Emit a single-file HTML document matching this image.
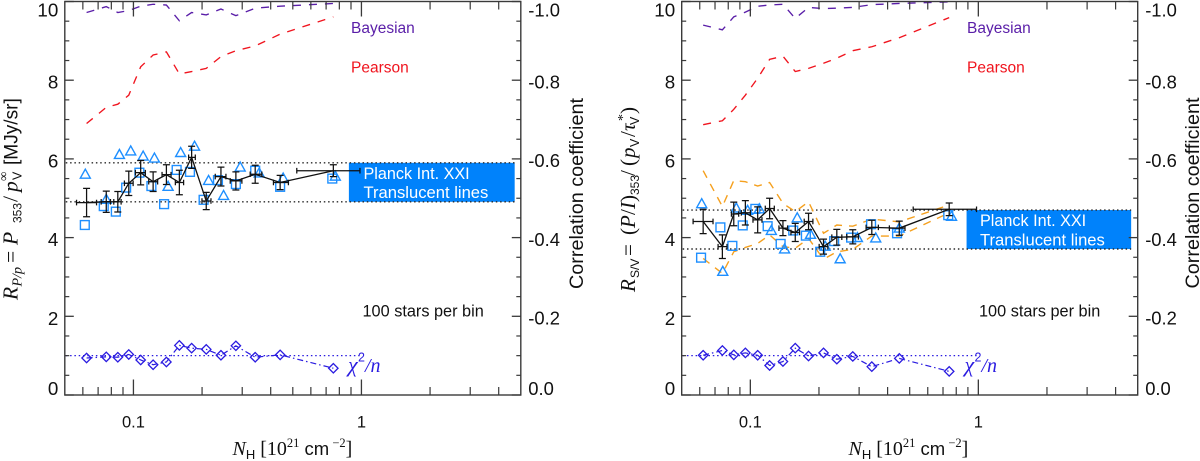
<!DOCTYPE html>
<html lang="en">
<head>
<meta charset="utf-8">
<title>Polarization ratios versus column density</title>
<style>
html,body{margin:0;padding:0;background:#fff;}
svg{display:block;}
text{font-family:"Liberation Sans",sans-serif;}
.serif{font-family:"Liberation Serif",serif;}
.sans{font-family:"Liberation Sans",sans-serif;}
.it{font-style:italic;}
</style>
</head>
<body>
<svg id="chart" xmlns="http://www.w3.org/2000/svg" width="1200" height="461" viewBox="0 0 1200 461">
  <rect x="0" y="0" width="1200" height="461" fill="#fff"></rect>
  <g id="left-panel"></g>
  <g id="right-panel"></g>

  <!-- Left panel static text -->
  <text x="363.5" y="179" font-size="16.2" fill="#fff">Planck Int. XXI</text>
  <text x="363.5" y="198" font-size="16.6" fill="#fff">Translucent lines</text>
  <text x="362.5" y="316.5" font-size="16.3" fill="#111">100 stars per bin</text>
  <text x="351" y="33" font-size="15.5" fill="#5a1ea8">Bayesian</text>
  <text x="351" y="72.5" font-size="15.5" fill="#f0141e">Pearson</text>
  <text y="372" font-size="22" fill="#2a1be0" class="serif it"><tspan x="348" y="372">χ</tspan><tspan class="sans" font-style="normal" font-size="12.5" x="358" y="361.5">2</tspan><tspan font-size="20" x="365" y="372">/n</tspan></text>
  <text x="232.5" y="455" font-size="20" fill="#111" class="serif"><tspan class="it">N</tspan><tspan class="sans" font-size="13" dy="4">H</tspan><tspan dy="-4"> [10</tspan><tspan font-size="12.5" dy="-8">21</tspan><tspan class="sans" font-size="18.5" dy="8"> cm</tspan><tspan font-size="12.5" dy="-8"> −2</tspan><tspan dy="8">]</tspan></text>
  <text transform="translate(17.5,300) rotate(-90)" font-size="21.5" fill="#111" class="serif"><tspan class="it" x="0" y="0">R</tspan><tspan class="it" font-size="14" x="13.5" y="4">P/p</tspan><tspan x="37" y="0">=</tspan><tspan class="it" x="55" y="0">P</tspan><tspan class="sans" font-size="12" x="77" y="4">353</tspan><tspan x="98" y="0">/</tspan><tspan class="it" x="108" y="0">p</tspan><tspan class="sans" font-size="12.5" x="120" y="4">V</tspan><tspan font-size="13" x="119" y="-10">∞</tspan><tspan class="sans" font-size="19.1" x="135" y="0">[MJy/sr]</tspan></text>
  <text transform="translate(583,289) rotate(-90)" font-size="19.8" fill="#111">Correlation coefficient</text>

  <!-- Right panel static text -->
  <text x="980" y="226" font-size="16.2" fill="#fff">Planck Int. XXI</text>
  <text x="980" y="245.5" font-size="16.6" fill="#fff">Translucent lines</text>
  <text x="979" y="316.5" font-size="16.3" fill="#111">100 stars per bin</text>
  <text x="967" y="33" font-size="15.5" fill="#5a1ea8">Bayesian</text>
  <text x="967" y="72.5" font-size="15.5" fill="#f0141e">Pearson</text>
  <text y="372" font-size="22" fill="#2a1be0" class="serif it"><tspan x="964.5" y="372">χ</tspan><tspan class="sans" font-style="normal" font-size="12.5" x="974.5" y="361.5">2</tspan><tspan font-size="20" x="981.5" y="372">/n</tspan></text>
  <text x="848.5" y="455" font-size="20" fill="#111" class="serif"><tspan class="it">N</tspan><tspan class="sans" font-size="13" dy="4">H</tspan><tspan dy="-4"> [10</tspan><tspan font-size="12.5" dy="-8">21</tspan><tspan class="sans" font-size="18.5" dy="8"> cm</tspan><tspan font-size="12.5" dy="-8"> −2</tspan><tspan dy="8">]</tspan></text>
  <text transform="translate(635,292) rotate(-90)" font-size="21" fill="#111" class="serif"><tspan class="it" x="0" y="0">R</tspan><tspan class="sans" font-size="12" x="14" y="4">S/V</tspan><tspan x="36" y="0">=</tspan><tspan x="57" y="0">(</tspan><tspan class="it" x="64" y="0">P</tspan><tspan x="77" y="0">/</tspan><tspan class="it" x="83" y="0">I</tspan><tspan x="90" y="0">)</tspan><tspan class="sans" font-size="12" x="97" y="4">353</tspan><tspan x="116" y="0">/</tspan><tspan x="126" y="0">(</tspan><tspan class="it" x="134" y="0">p</tspan><tspan class="sans" font-size="12.5" x="145" y="4">V</tspan><tspan x="155" y="0">/</tspan><tspan class="it" x="161" y="0">τ</tspan><tspan class="sans" font-size="12.5" x="167" y="4">V</tspan><tspan font-size="14" x="171" y="-8">*</tspan><tspan x="178" y="0">)</tspan></text>
  <text transform="translate(1199,288.5) rotate(-90)" font-size="19.8" fill="#111">Correlation coefficient</text>
</svg>

<script>
// ---- Shared tick data ----
var ratioMajorTicks = [0, 2, 4, 6, 8, 10];
var ratioTickLabels = ['0', '2', '4', '6', '8', '10'];
var ratioMinorTicks = [0.5, 1, 1.5, 2.5, 3, 3.5, 4.5, 5, 5.5, 6.5, 7, 7.5, 8.5, 9, 9.5];
var corrMajorTicks = [0, -0.2, -0.4, -0.6, -0.8, -1.0];
var corrTickLabels = ['0.0', '-0.2', '-0.4', '-0.6', '-0.8', '-1.0'];
var corrMinorTicks = [-0.05, -0.1, -0.15, -0.25, -0.3, -0.35, -0.45, -0.5, -0.55, -0.65, -0.7, -0.75, -0.85, -0.9, -0.95];
var columnMajorTicks = [0.1, 1];
var columnTickLabels = ['0.1', '1'];
var columnMinorTicks = [0.06, 0.07, 0.08, 0.09, 0.2, 0.3, 0.4, 0.5, 0.6, 0.7, 0.8, 0.9, 2, 3, 4];
var columnRange = [0.05, 5];
var ratioRange = [0, 10];
var chiReference = [1];

// ---- Left panel data ----
var leftBand = [0.881, 4.70, 4.91, 5.90];
var leftNH = [0.0623, 0.0760, 0.0854, 0.0954, 0.1076, 0.1220, 0.1395, 0.1590, 0.180, 0.2086, 0.242, 0.2814, 0.342, 0.440, 0.753];
var leftNHLow = [0.0563, 0.0722, 0.0820, 0.0913, 0.102, 0.1167, 0.1335, 0.1527, 0.1746, 0.1998, 0.2285, 0.2658, 0.3251, 0.4112, 0.5205];
var leftNHHigh = [0.0689, 0.0793, 0.0883, 0.0997, 0.1128, 0.1277, 0.1462, 0.166, 0.1868, 0.2188, 0.2545, 0.2990, 0.3658, 0.4783, 0.985];
var leftRatio = [4.89, 4.91, 4.91, 5.38, 5.65, 5.42, 5.60, 5.40, 6.04, 4.93, 5.55, 5.44, 5.61, 5.40, 5.70];
var leftRatioErr = [0.36, 0.27, 0.26, 0.31, 0.31, 0.25, 0.25, 0.31, 0.28, 0.22, 0.24, 0.23, 0.23, 0.18, 0.15];
var leftSquareNH = [0.0612, 0.0741, 0.0837, 0.0929, 0.1062, 0.1199, 0.1363, 0.1547, 0.1770, 0.2031, 0.2348, 0.2814, 0.342, 0.440, 0.745];
var leftSquareRatio = [4.32, 4.80, 4.66, 5.27, 5.65, 5.31, 4.85, 5.72, 5.67, 4.96, 5.46, 5.36, 5.70, 5.29, 5.50];
var leftTriangleNH = [0.0615, 0.0760, 0.0868, 0.0973, 0.1103, 0.1236, 0.1419, 0.1611, 0.1854, 0.2136, 0.2485, 0.2939, 0.3560, 0.4536, 0.768];
var leftTriangleRatio = [5.62, 4.98, 6.12, 6.21, 6.08, 6.03, 5.31, 6.17, 6.33, 5.46, 5.08, 5.80, 5.65, 5.52, 5.57];
var leftPearson = [-0.69, -0.731, -0.739, -0.762, -0.834, -0.864, -0.872, -0.816, -0.822, -0.830, -0.860, -0.875, -0.887, -0.917, -0.961];
var leftBayesian = [-0.972, -0.987, -0.972, -0.977, -0.988, -0.993, -0.991, -0.951, -0.972, -0.966, -0.981, -0.964, -0.983, -0.988, -0.995];
var leftChi = [0.94, 0.97, 0.96, 1.03, 0.89, 0.77, 0.84, 1.26, 1.19, 1.16, 1.01, 1.25, 0.96, 1.02, 0.68];

// ---- Right panel data ----
var rightBand = [0.888, 4.68, 3.71, 4.70];
var rightNH = [0.0621, 0.0754, 0.0846, 0.0951, 0.1077, 0.1215, 0.1390, 0.1574, 0.180, 0.2094, 0.2395, 0.2814, 0.341, 0.450, 0.745];
var rightNHLow = [0.0561, 0.0722, 0.0826, 0.0913, 0.1027, 0.1163, 0.1335, 0.1507, 0.1723, 0.2004, 0.2277, 0.2649, 0.3219, 0.4072, 0.518];
var rightNHHigh = [0.0686, 0.0790, 0.0889, 0.1, 0.1125, 0.1274, 0.1457, 0.1644, 0.1881, 0.2187, 0.2519, 0.2979, 0.3644, 0.4768, 0.982];
var rightRatio = [4.41, 3.77, 4.60, 4.63, 4.45, 4.74, 4.24, 4.13, 4.41, 3.77, 4.01, 4.02, 4.26, 4.24, 4.72];
var rightRatioErr = [0.31, 0.30, 0.30, 0.31, 0.33, 0.26, 0.19, 0.23, 0.21, 0.19, 0.20, 0.18, 0.18, 0.18, 0.16];
var rightSquareNH = [0.0608, 0.0739, 0.0834, 0.0926, 0.1052, 0.1191, 0.1358, 0.1542, 0.1752, 0.2025, 0.2332, 0.2767, 0.3385, 0.440, 0.738];
var rightSquareRatio = [3.49, 4.26, 3.79, 4.31, 4.73, 4.29, 3.84, 4.18, 4.05, 3.64, 3.91, 4.00, 4.34, 4.11, 4.57];
var rightTriangleNH = [0.0612, 0.0757, 0.0868, 0.0973, 0.1095, 0.1236, 0.1413, 0.1606, 0.1837, 0.2129, 0.2477, 0.2949, 0.3548, 0.450, 0.763];
var rightTriangleRatio = [4.87, 3.15, 4.76, 4.70, 4.74, 4.19, 3.72, 4.51, 4.09, 3.79, 3.47, 4.01, 4.00, 4.25, 4.55];
var rightUpperEnvelope = [5.70, 4.79, 5.45, 5.42, 5.31, 5.40, 4.87, 4.66, 4.91, 4.11, 4.32, 4.29, 4.47, 4.40, 4.83];
var rightLowerEnvelope = [3.47, 3.09, 3.64, 3.75, 3.85, 4.07, 3.77, 3.73, 3.98, 3.45, 3.64, 3.70, 4.04, 4.04, 4.63];
var rightPearson = [-0.687, -0.697, -0.726, -0.762, -0.805, -0.853, -0.861, -0.822, -0.830, -0.843, -0.856, -0.875, -0.885, -0.908, -0.959];
var rightBayesian = [-0.940, -0.928, -0.961, -0.973, -0.988, -0.991, -0.993, -0.957, -0.985, -0.982, -0.983, -0.985, -0.992, -0.995, -0.999];
var rightChi = [1.01, 1.13, 1.02, 1.07, 1.01, 0.75, 0.85, 1.19, 0.99, 1.07, 0.91, 0.98, 0.72, 0.93, 0.60];

// ---- Drawing ----
var NS = 'http://www.w3.org/2000/svg';
var AXIS = '#3a3a3a', BLUE = '#1e8fff', INK = '#111', CHI = '#2a1be0';

function make(parent, tag, attrs) {
  var node = document.createElementNS(NS, tag);
  for (var key in attrs) node.setAttribute(key, attrs[key]);
  parent.appendChild(node);
  return node;
}
function polyPoints(xs, ys) {
  var out = [];
  for (var i = 0; i < xs.length; i++) out.push(xs[i].toFixed(2) + ',' + ys[i].toFixed(2));
  return out.join(' ');
}

function drawPanel(root, frame, d) {
  var el;
  var logMin = Math.log10(columnRange[0]), logMax = Math.log10(columnRange[1]);
  function sx(nh) { return frame.left + (Math.log10(nh) - logMin) / (logMax - logMin) * (frame.right - frame.left); }
  function sy(v) { return frame.bottom - (v - ratioRange[0]) / (ratioRange[1] - ratioRange[0]) * (frame.bottom - frame.top); }
  function sr(r) { return frame.bottom + r * (frame.bottom - frame.top); }
  var xLine = d.nh.map(sx);

  // Literature band
  el = make(root, 'rect', { x: sx(d.band[0]), y: sy(d.band[3]), width: sx(d.band[1]) - sx(d.band[0]), height: sy(d.band[2]) - sy(d.band[3]), fill: '#0082fb' });
  
  

  // Dotted reference lines
  [d.band[2], d.band[3]].forEach(function (v) {
    var line = make(root, 'line', { x1: frame.left + 1, x2: sx(d.band[1]), y1: sy(v), y2: sy(v), stroke: '#2a2a2a', 'stroke-width': 1.4, 'stroke-dasharray': '1.5 2.8' });
    
    
  });
  el = make(root, 'line', { x1: frame.left + 1, x2: sx(1), y1: sy(chiReference[0]), y2: sy(chiReference[0]), stroke: CHI, 'stroke-width': 1.3, 'stroke-dasharray': '1.5 2.8' });
  
  

  // Correlation curves
  el = make(root, 'polyline', { points: polyPoints(xLine, d.pearson.map(sr)), fill: 'none', stroke: '#f0141e', 'stroke-width': 1.35, 'stroke-dasharray': '8 8' });
  
  
  el = make(root, 'polyline', { points: polyPoints(xLine, d.bayesian.map(sr)), fill: 'none', stroke: '#5a1ea8', 'stroke-width': 1.35, 'stroke-dasharray': '8 8' });
  
  

  // Orange envelope
  if (d.upper) {
    el = make(root, 'polyline', { points: polyPoints(xLine, d.upper.map(sy)), fill: 'none', stroke: '#f5a01e', 'stroke-width': 1.4, 'stroke-dasharray': '8 7' });
    
    
    el = make(root, 'polyline', { points: polyPoints(xLine, d.lower.map(sy)), fill: 'none', stroke: '#f5a01e', 'stroke-width': 1.4, 'stroke-dasharray': '8 7' });
    
    
  }

  // Squares
  d.squareNH.forEach(function (nh, i) {
    var s = make(root, 'rect', { x: sx(nh) - 4.4, y: sy(d.squareRatio[i]) - 4.4, width: 8.8, height: 8.8, fill: 'none', stroke: BLUE, 'stroke-width': 1.4 });
    
    
  });

  // Triangles
  d.triangleNH.forEach(function (nh, i) {
    var cx = sx(nh), cy = sy(d.triangleRatio[i]);
    var t = make(root, 'polygon', { points: polyPoints([cx - 5, cx + 5, cx], [cy + 4.3, cy + 4.3, cy - 4.7]), fill: 'none', stroke: BLUE, 'stroke-width': 1.4 });
    
    
  });

  // Black mean line
  el = make(root, 'polyline', { points: polyPoints(xLine, d.ratio.map(sy)), fill: 'none', stroke: INK, 'stroke-width': 1.3 });
  
  

  // Error bars
  d.nh.forEach(function (nh, i) {
    var cx = sx(nh), cy = sy(d.ratio[i]), hi = sy(d.ratio[i] + d.err[i]), lo = sy(d.ratio[i] - d.err[i]);
    var xa = sx(d.low[i]), xb = sx(d.high[i]);
    var path = 'M' + cx + ' ' + hi + 'V' + lo + 'M' + (cx - 3.5) + ' ' + hi + 'h7M' + (cx - 3.5) + ' ' + lo + 'h7' +
               'M' + xa + ' ' + cy + 'H' + xb + 'M' + xa + ' ' + (cy - 2.8) + 'v5.6M' + xb + ' ' + (cy - 2.8) + 'v5.6';
    var bar = make(root, 'path', { d: path, fill: 'none', stroke: INK, 'stroke-width': 1.25 });
    
    
  });

  // Chi-square curve with diamonds
  el = make(root, 'polyline', { points: polyPoints(xLine, d.chi.map(sy)), fill: 'none', stroke: CHI, 'stroke-width': 1.2, 'stroke-dasharray': '6 3 1.5 3' });
  
  
  d.chi.forEach(function (v, i) {
    var cx = xLine[i], cy = sy(v);
    var m = make(root, 'polygon', { points: polyPoints([cx - 4.7, cx, cx + 4.7, cx], [cy, cy - 4.7, cy, cy + 4.7]), fill: 'none', stroke: CHI, 'stroke-width': 1.3 });
    
    
  });

  // Axis frame
  el = make(root, 'rect', { x: frame.left, y: frame.top, width: frame.right - frame.left, height: frame.bottom - frame.top, fill: 'none', stroke: AXIS, 'stroke-width': 1.4 });
  
  

  // X ticks and labels
  columnMajorTicks.forEach(function (tick, i) {
    var x = sx(tick);
    var t = make(root, 'path', { d: 'M' + x + ' ' + frame.bottom + 'v-15.5M' + x + ' ' + frame.top + 'v15', stroke: AXIS, 'stroke-width': 1.3, fill: 'none' });
    
    
    var label = make(root, 'text', { x: x, y: 427.5, 'text-anchor': 'middle', 'font-size': 16.5, fill: INK });
    label.textContent = columnTickLabels[i];
    
    
  });
  columnMinorTicks.forEach(function (tick) {
    var x = sx(tick);
    var t = make(root, 'path', { d: 'M' + x + ' ' + frame.bottom + 'v-8M' + x + ' ' + frame.top + 'v8', stroke: AXIS, 'stroke-width': 1.2, fill: 'none' });
    
    
  });

  // Left Y axis
  ratioMajorTicks.forEach(function (tick, i) {
    var y = sy(tick);
    var t = make(root, 'line', { x1: frame.left, x2: frame.left + 9, y1: y, y2: y, stroke: AXIS, 'stroke-width': 1.3 });
    
    
    var base = tick === ratioRange[0] ? frame.bottom : (tick === ratioRange[1] ? 16.7 : y + 8.5);
    var label = make(root, 'text', { x: frame.left - 6.5, y: base, 'text-anchor': 'end', 'font-size': 18.8, fill: INK });
    label.textContent = ratioTickLabels[i];
    
    
  });
  ratioMinorTicks.forEach(function (tick) {
    var y = sy(tick);
    var t = make(root, 'line', { x1: frame.left, x2: frame.left + 4.5, y1: y, y2: y, stroke: AXIS, 'stroke-width': 1.2 });
    
    
  });

  // Right correlation axis
  corrMajorTicks.forEach(function (tick, i) {
    var y = sr(tick);
    var t = make(root, 'line', { x1: frame.right, x2: frame.right - 9, y1: y, y2: y, stroke: AXIS, 'stroke-width': 1.3 });
    
    
    var base = tick === 0 ? frame.bottom : (tick === -1 ? 16.7 : y + 8.3);
    var label = make(root, 'text', { x: frame.right + 7.5, y: base, 'font-size': 18.4, fill: INK });
    label.textContent = corrTickLabels[i];
    
    
  });
  corrMinorTicks.forEach(function (tick) {
    var y = sr(tick);
    var t = make(root, 'line', { x1: frame.right, x2: frame.right - 4.5, y1: y, y2: y, stroke: AXIS, 'stroke-width': 1.2 });
    
    
  });
}

drawPanel(document.getElementById('left-panel'),
  { left: 64.8, right: 520.8, top: 1.5, bottom: 395 },
  { band: leftBand, nh: leftNH, low: leftNHLow, high: leftNHHigh, ratio: leftRatio, err: leftRatioErr,
    squareNH: leftSquareNH, squareRatio: leftSquareRatio, triangleNH: leftTriangleNH, triangleRatio: leftTriangleRatio,
    pearson: leftPearson, bayesian: leftBayesian, chi: leftChi });

drawPanel(document.getElementById('right-panel'),
  { left: 681.7, right: 1137.7, top: 1.5, bottom: 395 },
  { band: rightBand, nh: rightNH, low: rightNHLow, high: rightNHHigh, ratio: rightRatio, err: rightRatioErr,
    squareNH: rightSquareNH, squareRatio: rightSquareRatio, triangleNH: rightTriangleNH, triangleRatio: rightTriangleRatio,
    upper: rightUpperEnvelope, lower: rightLowerEnvelope,
    pearson: rightPearson, bayesian: rightBayesian, chi: rightChi });
</script>
</body>
</html>
